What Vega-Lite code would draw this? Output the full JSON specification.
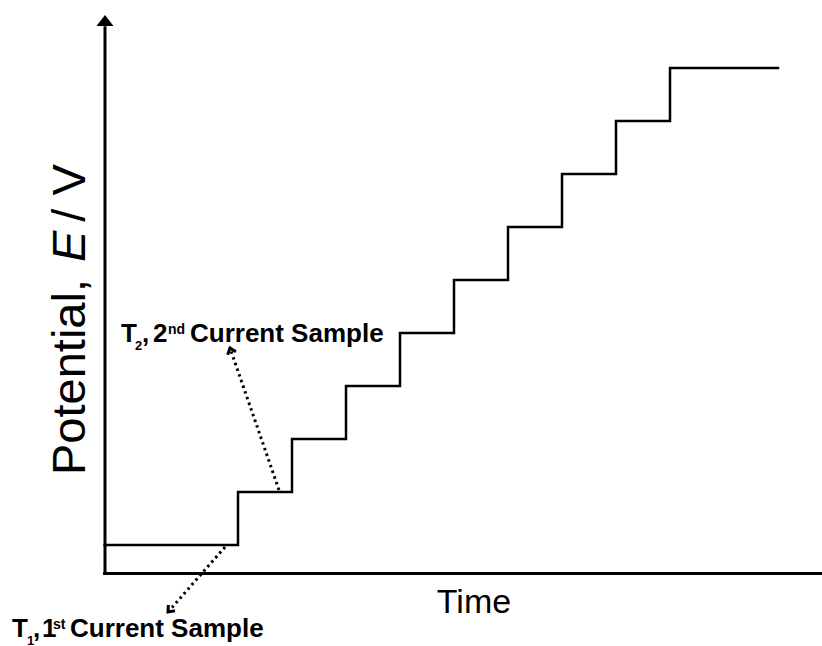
{
  "$schema": "https://vega.github.io/schema/vega-lite/v6.json",
  "width": 822,
  "height": 646,
  "autosize": {"type": "none"},
  "padding": 0,
  "background": "white",
  "config": {"view": {"stroke": null}},
  "datasets": {
    "steps": [
      {"t": 0.03, "E": 0}, {"t": 2.5, "E": 1}, {"t": 3.5, "E": 2}, {"t": 4.5, "E": 3},
      {"t": 5.5, "E": 4}, {"t": 6.5, "E": 5}, {"t": 7.5, "E": 6}, {"t": 8.5, "E": 7},
      {"t": 9.5, "E": 8}, {"t": 10.5, "E": 9}, {"t": 12.5, "E": 9}
    ],
    "axes": [
      {"name": "y", "t": 0.037, "E": -0.538, "t2": 0.037, "E2": 9.79},
      {"name": "x", "t": 0.0, "E": -0.538, "t2": 13.4, "E2": -0.538}
    ],
    "axisHeads": [
      {"name": "y", "t": 0.037, "E": 9.896},
      {"name": "x", "t": 13.45, "E": -0.538}
    ],
    "pointers": [
      {"name": "T2", "t": 3.259, "E": 1.038, "t2": 2.352, "E2": 3.717},
      {"name": "T1", "t": 2.259, "E": -0.038, "t2": 1.204, "E2": -1.264}
    ],
    "mainText": [
      {"text": "T", "t": 0.333, "E": 3.83},
      {"text": ",", "t": 0.722, "E": 3.83},
      {"text": "2", "t": 0.926, "E": 3.83},
      {"text": "Current Sample", "t": 1.611, "E": 3.83},
      {"text": "T", "t": -1.685, "E": -1.736},
      {"text": ",", "t": -1.296, "E": -1.736},
      {"text": "1", "t": -1.13, "E": -1.736},
      {"text": "Current Sample", "t": -0.611, "E": -1.736}
    ],
    "subText": [
      {"text": "2", "t": 0.593, "E": 3.83},
      {"text": "1", "t": -1.407, "E": -1.736}
    ],
    "supText": [
      {"text": "nd", "t": 1.204, "E": 3.83},
      {"text": "st", "t": -0.926, "E": -1.736}
    ],
    "titles": [
      {"text": "Time", "t": 6.87, "E": -1.283}
    ],
    "ytitle": [
      {"text": "Potential,", "style": "normal", "t": -0.333, "E": 1.321},
      {"text": "E", "style": "italic", "t": -0.333, "E": 5.34},
      {"text": "/ V", "style": "normal", "t": -0.333, "E": 6.1}
    ]
  },
  "encoding": {
    "x": {"field": "t", "type": "quantitative", "axis": null,
          "scale": {"domain": [-1.9074, 13.3148], "nice": false, "zero": false}},
    "y": {"field": "E", "type": "quantitative", "axis": null,
          "scale": {"domain": [-1.9057, 10.283], "nice": false, "zero": false}}
  },
  "layer": [
    {
      "data": {"name": "axes"},
      "mark": {"type": "rule", "color": "black", "strokeWidth": 3},
      "encoding": {"x2": {"field": "t2"}, "y2": {"field": "E2"}}
    },
    {
      "data": {"name": "axisHeads"},
      "transform": [{"filter": "datum.name === 'y'"}],
      "mark": {"type": "point", "filled": true, "color": "black", "opacity": 1,
               "shape": "M0,-0.65L1,0.65L-1,0.65Z", "size": 289, "strokeWidth": 0}
    },
    {
      "data": {"name": "axisHeads"},
      "transform": [{"filter": "datum.name === 'x'"}],
      "mark": {"type": "point", "filled": true, "color": "black", "opacity": 1,
               "shape": "M0.65,0L-0.65,1L-0.65,-1Z", "size": 289, "strokeWidth": 0}
    },
    {
      "data": {"name": "steps"},
      "mark": {"type": "line", "color": "black", "strokeWidth": 2.5,
               "interpolate": "step-after", "strokeJoin": "miter", "strokeCap": "square"}
    },
    {
      "data": {"name": "pointers"},
      "mark": {"type": "rule", "color": "black", "strokeWidth": 3, "strokeDash": [2.5, 3.5]},
      "encoding": {"x2": {"field": "t2"}, "y2": {"field": "E2"}}
    },
    {
      "data": {"name": "pointers"},
      "transform": [{"filter": "datum.name === 'T2'"}],
      "mark": {"type": "point", "filled": false, "color": "black", "opacity": 1,
               "shape": "M-0.8,1L0,0L0.8,1", "size": 121, "strokeWidth": 3, "angle": 341},
      "encoding": {"x": {"field": "t2", "type": "quantitative"}, "y": {"field": "E2", "type": "quantitative"}}
    },
    {
      "data": {"name": "pointers"},
      "transform": [{"filter": "datum.name === 'T1'"}],
      "mark": {"type": "point", "filled": false, "color": "black", "opacity": 1,
               "shape": "M-0.8,1L0,0L0.8,1", "size": 121, "strokeWidth": 3, "angle": 221},
      "encoding": {"x": {"field": "t2", "type": "quantitative"}, "y": {"field": "E2", "type": "quantitative"}}
    },
    {
      "data": {"name": "mainText"},
      "mark": {"type": "text", "font": "Liberation Sans", "fontWeight": "bold", "fontSize": 26,
               "align": "left", "baseline": "alphabetic", "color": "black"},
      "encoding": {"text": {"field": "text"}}
    },
    {
      "data": {"name": "subText"},
      "mark": {"type": "text", "font": "Liberation Sans", "fontWeight": "bold", "fontSize": 13,
               "align": "left", "baseline": "alphabetic", "dy": 8, "color": "black"},
      "encoding": {"text": {"field": "text"}}
    },
    {
      "data": {"name": "supText"},
      "mark": {"type": "text", "font": "Liberation Sans", "fontWeight": "bold", "fontSize": 14,
               "align": "left", "baseline": "alphabetic", "dy": -8, "color": "black"},
      "encoding": {"text": {"field": "text"}}
    },
    {
      "data": {"name": "titles"},
      "mark": {"type": "text", "font": "Liberation Sans", "fontSize": 34,
               "align": "center", "baseline": "alphabetic", "color": "black"},
      "encoding": {"text": {"field": "text"}}
    },
    {
      "data": {"name": "ytitle"},
      "transform": [{"filter": "datum.style === 'normal'"}],
      "mark": {"type": "text", "font": "Liberation Sans", "fontSize": 47, "angle": 270,
               "align": "left", "baseline": "alphabetic", "color": "black"},
      "encoding": {"text": {"field": "text"}}
    },
    {
      "data": {"name": "ytitle"},
      "transform": [{"filter": "datum.style === 'italic'"}],
      "mark": {"type": "text", "font": "Liberation Sans", "fontSize": 47, "fontStyle": "italic", "angle": 270,
               "align": "left", "baseline": "alphabetic", "color": "black"},
      "encoding": {"text": {"field": "text"}}
    }
  ]
}
